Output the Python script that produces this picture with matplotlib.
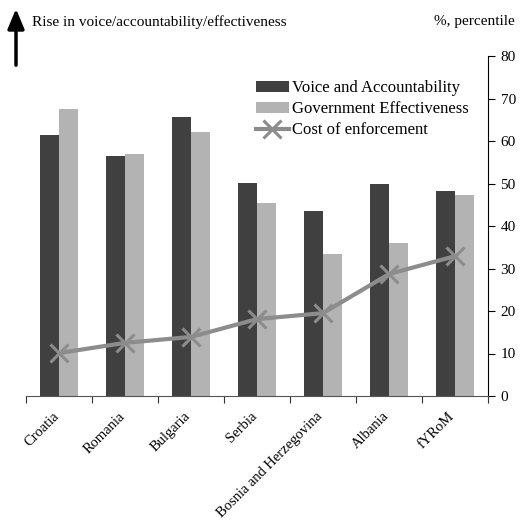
import numpy as np
import matplotlib.pyplot as plt
import matplotlib.transforms as mtransforms
from matplotlib.patches import FancyArrowPatch

countries = ['Croatia', 'Romania', 'Bulgaria', 'Serbia', 'Bosnia and Herzegovina', 'Albania', 'fYRoM']
voice = [61.4, 56.5, 65.6, 50.1, 43.5, 49.9, 48.2]
gov_eff = [67.5, 57.0, 62.1, 45.4, 33.4, 36.0, 47.3]
cost_enf = [10.1, 12.5, 13.9, 18.1, 19.5, 28.7, 32.9]
y_ticks = [0, 10, 20, 30, 40, 50, 60, 70, 80]

plt.rcParams['font.family'] = ['Liberation Serif', 'DejaVu Serif']

fig = plt.figure(figsize=(5.22, 5.24), dpi=100)
ax = fig.add_axes([26 / 522, 1 - 396 / 524, 462 / 522, 340 / 524])

x = np.arange(len(countries))
w = 0.29
b1 = ax.bar(x - w / 2, voice, w, color='#404040', label='Voice and Accountability')
b2 = ax.bar(x + w / 2, gov_eff, w, color='#b3b3b3', label='Government Effectiveness')
ln, = ax.plot(x, cost_enf, color='#8c8c8c', lw=3, marker='x', ms=13, mew=2.2,
              label='Cost of enforcement')

ax.set_xlim(-0.5, len(countries) - 0.5)
ax.set_ylim(0, 80)

# y axis on the right only
ax.spines['left'].set_visible(False)
ax.spines['top'].set_visible(False)
ax.spines['right'].set_color('black')
ax.spines['bottom'].set_color('#555555')
ax.yaxis.tick_right()
ax.set_yticks(y_ticks)
ax.tick_params(axis='y', direction='out', length=5, labelsize=11, pad=4)

# ticks between categories, labels at centers
ax.set_xticks(np.arange(len(countries) + 1) - 0.5)
ax.set_xticklabels([])
ax.set_xticks(x, minor=True)
ax.set_xticklabels(countries, minor=True, rotation=45, ha='right',
                   rotation_mode='anchor', fontsize=10.5)
ax.tick_params(axis='x', which='major', direction='out', length=5, color='#333333')
ax.tick_params(axis='x', which='minor', length=0, pad=10)
shift = mtransforms.ScaledTranslation(-7 / 100, 0, fig.dpi_scale_trans)
for lab in ax.get_xticklabels(minor=True):
    lab.set_transform(lab.get_transform() + shift)

ax.legend([b1, b2, ln], [b1.get_label(), b2.get_label(), ln.get_label()],
          loc='upper left', bbox_to_anchor=(0.483, 0.948), frameon=False,
          fontsize=12, handlelength=2.0, handletextpad=0.2, labelspacing=0.3,
          borderaxespad=0)

fig.text(32 / 522, 1 - 22 / 524, 'Rise in voice/accountability/effectiveness',
         fontsize=11, va='center', ha='left')
fig.text(515 / 522, 1 - 22 / 524, '%, percentile', fontsize=11, va='center', ha='right')
fig.add_artist(FancyArrowPatch(
    (16 / 522, 1 - 68 / 524), (16 / 522, 1 - 6 / 524), transform=fig.transFigure,
    arrowstyle='-|>,head_length=0.6,head_width=0.25', mutation_scale=20,
    lw=2.5, color='black'))

fig.savefig('out.png', dpi=100)
